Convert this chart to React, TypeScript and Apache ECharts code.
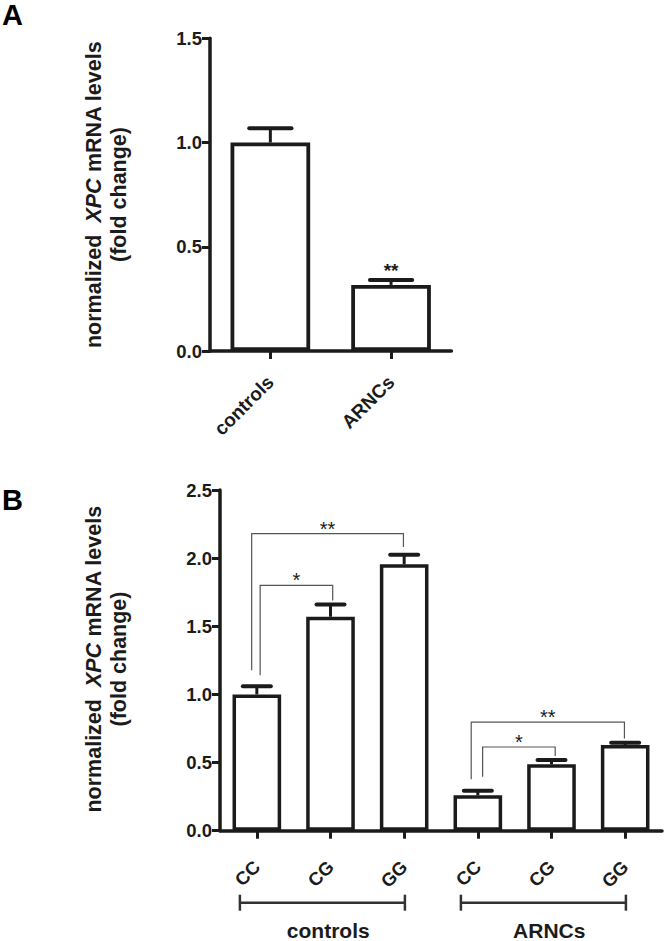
import React, { useEffect, useRef } from 'react';
import * as echarts from 'echarts';

// ---------- Panel A data ----------
const panelACategories = ['controls', 'ARNCs'];
const panelAMeans = [1.0, 0.317];
const panelASem = [0.068, 0.024];
const panelASignificance = ['', '**'];
const panelAAxis = { min: 0, max: 1.5, interval: 0.5 };

// ---------- Panel B data ----------
const panelBGenotypes = ['CC', 'CG', 'GG', 'CC', 'CG', 'GG'];
const panelBMeans = [1.0, 1.57, 1.955, 0.26, 0.487, 0.628];
const panelBSem = [0.06, 0.09, 0.07, 0.033, 0.031, 0.017];
const panelBAxis = { min: 0, max: 2.5, interval: 0.5 };

// comparison brackets (values in data units)
const panelBComparisons = [
  { from: 0, to: 2, level: 2.18, fromEnd: 1.178, toEnd: 2.082, label: '**' },
  { from: 0, to: 1, level: 1.8, fromEnd: 1.141, toEnd: 1.69, label: '*' },
  { from: 3, to: 5, level: 0.797, fromEnd: 0.377, toEnd: 0.677, label: '**' },
  { from: 3, to: 4, level: 0.614, fromEnd: 0.396, toEnd: 0.548, label: '*' },
];
const panelBGroups = [
  { name: 'controls', from: 0, to: 2, mid: 1 },
  { name: 'ARNCs', from: 3, to: 5, mid: 4 },
];

// ---------- layout / style constants ----------
const bracketLegOffsets = [
  [-0.07, -0.01],
  [0.045, 0.03],
  [-0.09, -0.01],
  [0.065, 0.05],
];
const FONT = '"Liberation Sans", Arial, Helvetica, sans-serif';
const INK = '#1b1b1b';
const THIN = '#555555';

function errorBarSeries(means: number[], sems: number[], sig: string[] | null, capFrac: number, idx: number) {
  return {
    type: 'custom',
    xAxisIndex: idx,
    yAxisIndex: idx,
    z: 4,
    clip: false,
    data: means.map((m, i) => [i, m + sems[i]]),
    renderItem: (params: any, api: any) => {
      const i = params.dataIndex;
      const base = api.coord([i, means[i]]);
      const top = api.coord([i, means[i] + sems[i]]);
      const band = api.size([1, 0])[0];
      const half = (band * capFrac) / 2;
      const children: any[] = [
        { type: 'line', shape: { x1: base[0], y1: base[1], x2: top[0], y2: top[1] }, style: { stroke: INK, lineWidth: 3 } },
        { type: 'line', shape: { x1: top[0] - half, y1: top[1], x2: top[0] + half, y2: top[1] }, style: { stroke: INK, lineWidth: 4, lineCap: 'round' } },
      ];
      if (sig && sig[i]) {
        children.push({
          type: 'text',
          x: top[0],
          y: top[1] - 9.5,
          style: { text: sig[i], align: 'center', verticalAlign: 'middle', fill: INK, fontFamily: FONT, fontWeight: 'bold', fontSize: 19 },
        });
      }
      return { type: 'group', children };
    },
  };
}

function yTitle(cx: number, cy: number) {
  const tok = { fontFamily: FONT, fontWeight: 'bold', fontSize: 21.5, lineHeight: 25, fill: INK };
  return {
    type: 'text',
    x: cx,
    y: cy,
    rotation: Math.PI / 2,
    style: {
      text: '{b|normalized  }{i|XPC}{b| mRNA levels}\n{b|(fold change)}',
      align: 'center',
      verticalAlign: 'middle',
      fill: INK,
      rich: {
        b: { ...tok },
        i: { ...tok, fontStyle: 'italic' },
      },
    },
  };
}

function valueAxis(gridIndex: number, spec: { min: number; max: number; interval: number }) {
  return {
    type: 'value',
    gridIndex,
    min: spec.min,
    max: spec.max,
    interval: spec.interval,
    splitLine: { show: false },
    axisLine: { show: true, lineStyle: { color: INK, width: 3.5 } },
    axisTick: { show: true, length: 8, lineStyle: { color: INK, width: 3 } },
    axisLabel: {
      margin: 8,
      color: INK,
      fontFamily: FONT,
      fontWeight: 'bold',
      fontSize: 18.5,
      formatter: (v: number) => v.toFixed(1),
    },
  };
}

function categoryAxis(gridIndex: number, data: string[], margin: number, fontSize: number) {
  return {
    type: 'category',
    gridIndex,
    data,
    axisLine: { show: true, lineStyle: { color: INK, width: 3.5 } },
    axisTick: { show: true, alignWithLabel: true, length: 8, lineStyle: { color: INK, width: 3 } },
    axisLabel: {
      interval: 0,
      rotate: 45,
      margin,
      color: INK,
      fontFamily: FONT,
      fontWeight: 'bold',
      fontSize,
    },
  };
}

export default function App() {
  const ref = useRef<HTMLDivElement>(null);
  useEffect(() => {
    if (!ref.current) return;
    const chart = echarts.init(ref.current, null, { renderer: 'svg' });
    const option: any = {
      animation: false,
      backgroundColor: '#ffffff',
      grid: [
        { left: 210, top: 38.3, width: 241.4, height: 312.7 },
        { left: 220, top: 490, width: 442, height: 340.7 },
      ],
      xAxis: [categoryAxis(0, panelACategories, 28, 19), categoryAxis(1, panelBGenotypes, 33, 18.5)],
      yAxis: [valueAxis(0, panelAAxis), valueAxis(1, panelBAxis)],
      series: [
        {
          type: 'bar',
          xAxisIndex: 0,
          yAxisIndex: 0,
          data: panelAMeans,
          barWidth: '66%',
          itemStyle: { color: '#ffffff', borderColor: INK, borderWidth: 3.8 },
          z: 3,
        },
        errorBarSeries(panelAMeans, panelASem, panelASignificance, 0.35, 0),
        {
          type: 'bar',
          xAxisIndex: 1,
          yAxisIndex: 1,
          data: panelBMeans,
          barWidth: '66%',
          itemStyle: { color: '#ffffff', borderColor: INK, borderWidth: 3.5 },
          z: 3,
        },
        errorBarSeries(panelBMeans, panelBSem, null, 0.38, 1),
        {
          type: 'custom',
          xAxisIndex: 1,
          yAxisIndex: 1,
          z: 5,
          clip: false,
          data: panelBComparisons.map((c) => [c.from, c.level]),
          renderItem: (params: any, api: any) => {
            const i = params.dataIndex;
            const c = panelBComparisons[i];
            const off = bracketLegOffsets[i];
            const band = api.size([1, 0])[0];
            const xl = api.coord([c.from, 0])[0] + off[0] * band;
            const xr = api.coord([c.to, 0])[0] + off[1] * band;
            const yTop = api.coord([c.from, c.level])[1];
            const yl = api.coord([c.from, c.fromEnd])[1];
            const yr = api.coord([c.to, c.toEnd])[1];
            return {
              type: 'group',
              children: [
                {
                  type: 'polyline',
                  shape: { points: [[xl, yl], [xl, yTop], [xr, yTop], [xr, yr]] },
                  style: { stroke: THIN, lineWidth: 1.2, fill: 'none' },
                },
                {
                  type: 'text',
                  x: (xl + xr) / 2,
                  y: yTop - 5,
                  style: { text: c.label, align: 'center', verticalAlign: 'middle', fill: INK, fontFamily: FONT, fontSize: 20 },
                },
              ],
            };
          },
        },
        {
          type: 'custom',
          xAxisIndex: 1,
          yAxisIndex: 1,
          z: 5,
          clip: false,
          data: panelBGroups.map((g) => [g.mid, 0]),
          renderItem: (params: any, api: any) => {
            const g = panelBGroups[params.dataIndex];
            const band = api.size([1, 0])[0];
            const x0 = api.coord([g.from, 0])[0] - 0.23 * band;
            const x1 = api.coord([g.to, 0])[0] + 0.01 * band;
            const xm = api.coord([g.mid, 0])[0] - 0.03 * band;
            const base = api.coord([g.from, 0])[1];
            const ly = base + 72;
            return {
              type: 'group',
              children: [
                { type: 'line', shape: { x1: x0, y1: ly, x2: x1, y2: ly }, style: { stroke: '#333', lineWidth: 2.5 } },
                { type: 'line', shape: { x1: x0, y1: ly - 8, x2: x0, y2: ly + 8 }, style: { stroke: '#333', lineWidth: 2.5 } },
                { type: 'line', shape: { x1: x1, y1: ly - 8, x2: x1, y2: ly + 8 }, style: { stroke: '#333', lineWidth: 2.5 } },
                {
                  type: 'text',
                  x: xm,
                  y: base + 100,
                  style: { text: g.name, align: 'center', verticalAlign: 'middle', fill: INK, fontFamily: FONT, fontWeight: 'bold', fontSize: 21 },
                },
              ],
            };
          },
        },
      ],
      graphic: [
        { type: 'text', left: 2, top: 0, style: { text: 'A', fill: '#000', fontFamily: FONT, fontWeight: 'bold', fontSize: 29 } },
        { type: 'text', left: 2, top: 485, style: { text: 'B', fill: '#000', fontFamily: FONT, fontWeight: 'bold', fontSize: 29 } },
        yTitle(106, 194.5),
        yTitle(106, 659),
      ],
    };
    chart.setOption(option);
    return () => chart.dispose();
  }, []);
  return <div ref={ref} style={{ position: 'absolute', left: 0, top: 0, width: 666, height: 941, background: '#fff' }} />;
}
